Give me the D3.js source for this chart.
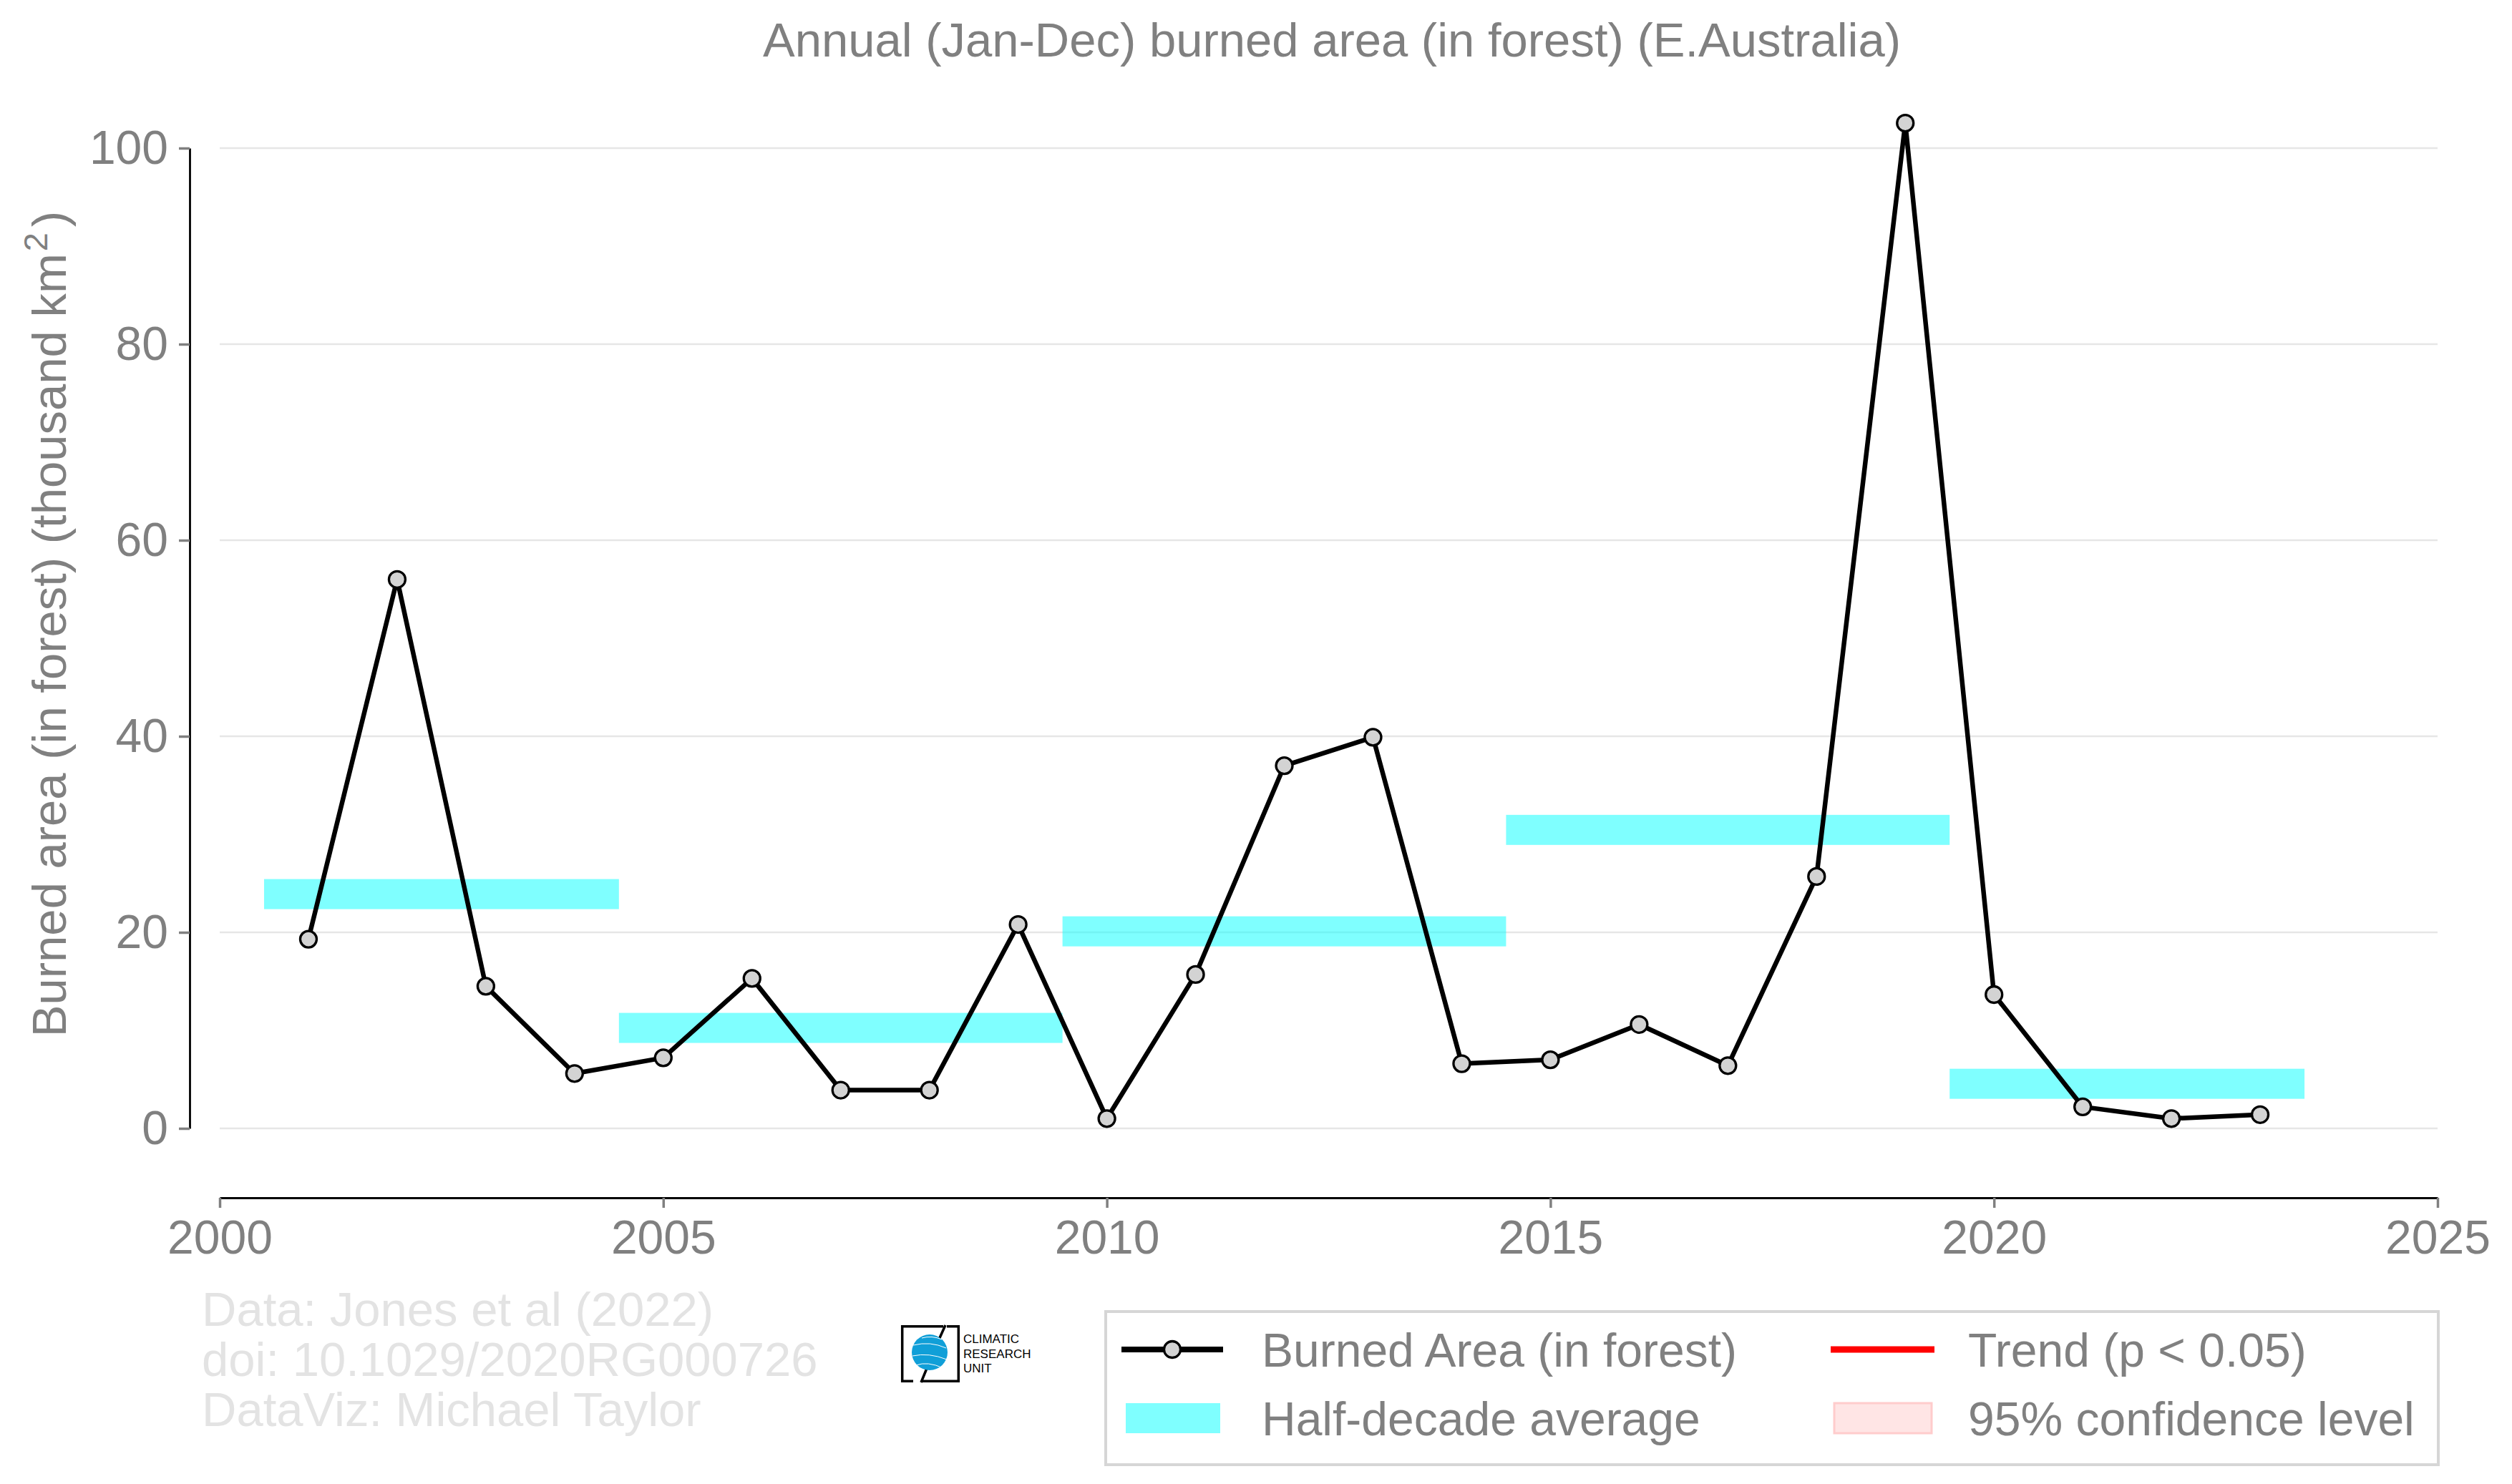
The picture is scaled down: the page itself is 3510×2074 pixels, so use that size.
<!DOCTYPE html>
<html>
<head>
<meta charset="utf-8">
<script src="https://cdn.jsdelivr.net/npm/d3@7"></script>
<style>
  body { margin: 0; background: #fff; }
  svg { display: block; font-family: "Liberation Sans", Arial, sans-serif; }
</style>
</head>
<body>
<svg id="chart" width="3510" height="2074"></svg>
<script>
// burned area in forest, thousand km2
const years = [2001, 2002, 2003, 2004, 2005, 2006, 2007, 2008, 2009, 2010, 2011, 2012,
               2013, 2014, 2015, 2016, 2017, 2018, 2019, 2020, 2021, 2022, 2023]
const burned = [19.3, 56.0, 14.5, 5.6, 7.2, 15.3, 3.9, 3.9, 20.8, 1.0, 15.7, 37.0,
                39.9, 6.6, 7.0, 10.6, 6.4, 25.7, 102.55, 13.65, 2.2, 1.0, 1.4]
// half-decade averages
const halfStart = [2000.5, 2004.5, 2009.5, 2014.5, 2019.5]
const halfEnd = [2004.5, 2009.5, 2014.5, 2019.5, 2023.5]
const halfAvg = [23.9, 10.25, 20.1, 30.45, 4.55]

const xTicks = [2000, 2005, 2010, 2015, 2020, 2025]
const yTicks = [0, 20, 40, 60, 80, 100]
const legendLabels = ["Burned Area (in forest)", "Half-decade average", "Trend (p < 0.05)", "95% confidence level"]
const creditLines = ["Data: Jones et al (2022)", "doi: 10.1029/2020RG000726", "DataViz: Michael Taylor"]

const gray = "#808080"
const svg = d3.select("#chart")
svg.append("rect").attr("width", 3510).attr("height", 2074).attr("fill", "#fff")

const x = d3.scaleLinear().domain([2000, 2025]).range([307, 3406])
const y = d3.scaleLinear().domain([0, 100]).range([1577, 207])
const xAxisY = 1674

// gridlines
svg.append("g").selectAll("line")
    .data(yTicks)
    .join("line")
    .attr("x1", x(2000)).attr("x2", x(2025))
    .attr("y1", d => y(d)).attr("y2", d => y(d))
    .attr("stroke", "#e6e6e6").attr("stroke-width", 2.7)

// half-decade bars
const barH = 42
svg.append("g").selectAll("rect")
    .data(halfAvg)
    .join("rect")
    .attr("x", (d, i) => x(halfStart[i]))
    .attr("width", (d, i) => x(halfEnd[i]) - x(halfStart[i]))
    .attr("y", d => y(d) - barH / 2)
    .attr("height", barH)
    .attr("fill", "#00ffff").attr("fill-opacity", 0.5)

// burned area line + markers
const pts = years.map((yr, i) => [yr, burned[i]])
const line = d3.line().x(d => x(d[0])).y(d => y(d[1]))
svg.append("path")
    .attr("d", line(pts))
    .attr("fill", "none").attr("stroke", "#000").attr("stroke-width", 6.5)
    .attr("stroke-linejoin", "round")
svg.append("g").selectAll("circle")
    .data(pts)
    .join("circle")
    .attr("cx", d => x(d[0])).attr("cy", d => y(d[1]))
    .attr("r", 11.5)
    .attr("fill", "#d3d3d3").attr("stroke", "#000").attr("stroke-width", 3.3)

// axes
const yAxis = svg.append("g")
    .attr("transform", `translate(265,0)`)
    .call(d3.axisLeft(y).tickValues(yTicks).tickSize(15).tickSizeOuter(0).tickPadding(15))
const xAxis = svg.append("g")
    .attr("transform", `translate(0,${xAxisY})`)
    .call(d3.axisBottom(x).tickValues(xTicks).tickFormat(d3.format("d")).tickSize(14).tickSizeOuter(0).tickPadding(17))
;[yAxis, xAxis].forEach(ax => {
    ax.select(".domain").attr("stroke", "#000").attr("stroke-width", 2.8)
    ax.selectAll(".tick line").attr("stroke", gray).attr("stroke-width", 3.5)
    ax.selectAll(".tick text")
        .attr("fill", gray)
        .style("font-size", "66px")
        .style("font-family", "'Liberation Sans', Arial, sans-serif")
})

// title
svg.append("text")
    .attr("x", 1861).attr("y", 79)
    .attr("text-anchor", "middle")
    .attr("fill", gray).style("font-size", "67px")
    .text("Annual (Jan-Dec) burned area (in forest) (E.Australia)")

// y label
const yl = svg.append("text")
    .attr("transform", "translate(92,872) rotate(-90)")
    .attr("text-anchor", "middle")
    .attr("fill", gray).style("font-size", "67px")
yl.append("tspan").text("Burned area (in forest) (thousand km")
yl.append("tspan").text("2").attr("dy", -26).attr("dx", 3).style("font-size", "47px")
yl.append("tspan").text(")").attr("dy", 26).attr("dx", 8)

// credits
svg.append("g").selectAll("text")
    .data(creditLines)
    .join("text")
    .attr("x", 282).attr("y", (d, i) => 1853 + i * 70)
    .attr("fill", "#e3e3e3").style("font-size", "67px")
    .text(d => d)

// CRU logo
const logo = svg.append("g")
logo.append("path")
    .attr("d", "M1318,1853.7 H1260.7 V1930.3 H1276 M1323,1853.7 H1339.3 V1930.3 H1287")
    .attr("fill", "none").attr("stroke", "#000").attr("stroke-width", 3.5)
logo.append("path")
    .attr("d", "M1321,1852 L1312,1872 M1296,1910 L1287,1932")
    .attr("fill", "none").attr("stroke", "#000").attr("stroke-width", 3.5)
logo.append("circle")
    .attr("cx", 1299).attr("cy", 1890).attr("r", 25)
    .attr("fill", "#109fd8")
logo.append("path")
    .attr("d", "M1276,1880 Q1300,1874 1322,1884 M1275,1895 Q1298,1890 1323,1900 M1280,1908 Q1296,1902 1318,1912 M1288,1870 Q1302,1866 1316,1872")
    .attr("fill", "none").attr("stroke", "#fff").attr("stroke-width", 1)
logo.append("g").selectAll("text")
    .data(["CLIMATIC", "RESEARCH", "UNIT"])
    .join("text")
    .attr("x", 1346).attr("y", (d, i) => 1877 + i * 20.5)
    .attr("fill", "#000").style("font-size", "17px")
    .text(d => d)

// legend
const lg = svg.append("g")
lg.append("rect")
    .attr("x", 1545).attr("y", 1833).attr("width", 1862).attr("height", 214)
    .attr("fill", "#fff").attr("stroke", "#d6d6d6").attr("stroke-width", 4)
const row1 = 1886, row2 = 1982
lg.append("line").attr("x1", 1567).attr("x2", 1709).attr("y1", row1).attr("y2", row1)
    .attr("stroke", "#000").attr("stroke-width", 8)
lg.append("circle").attr("cx", 1638).attr("cy", row1).attr("r", 11.5)
    .attr("fill", "#d3d3d3").attr("stroke", "#000").attr("stroke-width", 3.3)
lg.append("rect").attr("x", 1573).attr("y", row2 - 21).attr("width", 132).attr("height", 42)
    .attr("fill", "#00ffff").attr("fill-opacity", 0.5)
lg.append("line").attr("x1", 2558).attr("x2", 2703).attr("y1", row1).attr("y2", row1)
    .attr("stroke", "#ff0000").attr("stroke-width", 9)
lg.append("rect").attr("x", 2563).attr("y", row2 - 21).attr("width", 136).attr("height", 42)
    .attr("fill", "#ffe5e5").attr("stroke", "#ffcccc").attr("stroke-width", 3)
const legPos = [[1763, row1], [1763, row2], [2750, row1], [2750, row2]]
lg.selectAll("text.leg")
    .data(legendLabels)
    .join("text")
    .attr("class", "leg")
    .attr("x", (d, i) => legPos[i][0]).attr("y", (d, i) => legPos[i][1] + 24)
    .attr("fill", gray).style("font-size", "66px")
    .text(d => d)
</script>
</body>
</html>
